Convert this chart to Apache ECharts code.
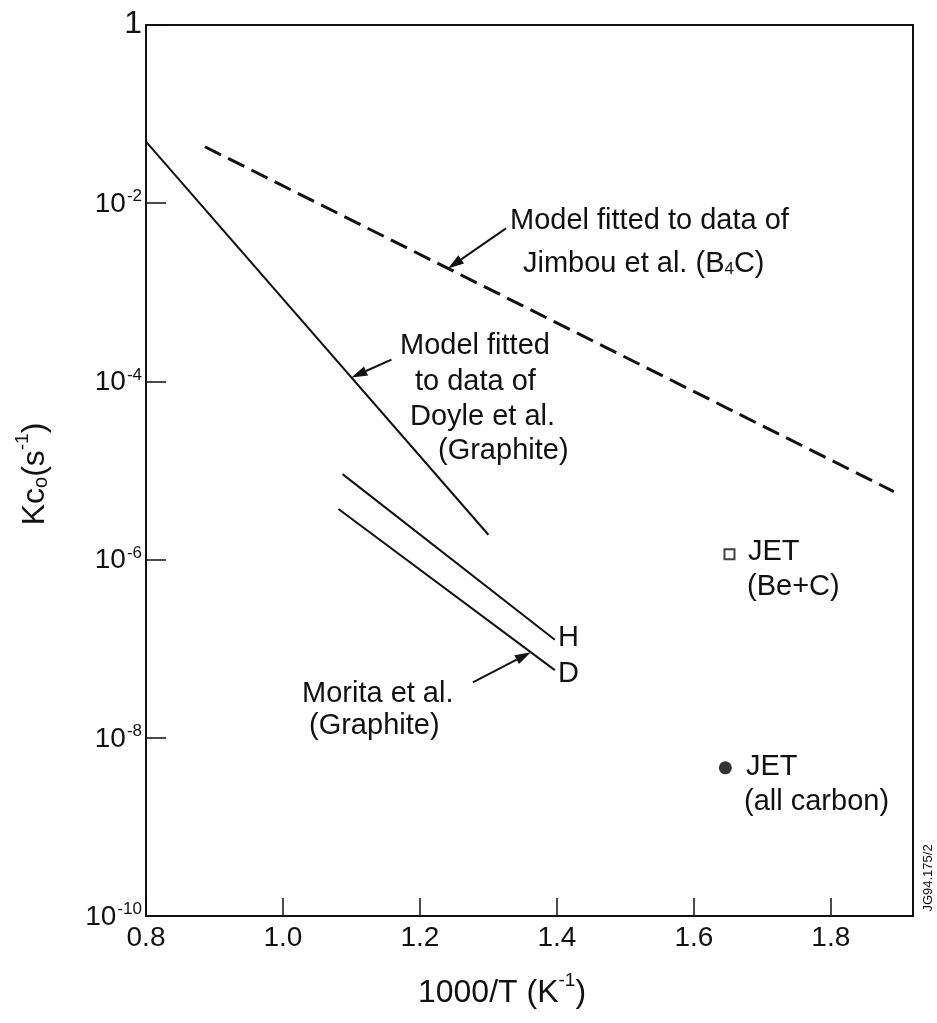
<!DOCTYPE html>
<html>
<head>
<meta charset="utf-8">
<script src="https://cdn.jsdelivr.net/npm/echarts@6/dist/echarts.min.js"></script>
<style>
  html,body{margin:0;padding:0;background:#fff;}
  #chart{width:937px;height:1023px;}
</style>
</head>
<body>
<div id="chart"></div>
<script>
// ========= 数据 =========
const xTicks = [0.8, 1.0, 1.2, 1.4, 1.6, 1.8];
const yExponents = [-10, -8, -6, -4, -2, 0];   // 刻度 10^n

const doyleLine  = [[0.80, 0.049], [1.30, 1.9e-6]];
const jimbouLine = [[0.886, 0.043], [1.892, 5.8e-6]];
const moritaH    = [[1.087, 9.1e-6], [1.397, 1.26e-7]];
const moritaD    = [[1.081, 3.7e-6], [1.397, 5.75e-8]];
const jetBeC     = [[1.652, 1.15e-6]];
const jetCarbon  = [[1.646, 4.6e-9]];

// 箭头：指向哪条线、在哪个 x 上
const arrowTargets = [
  {line: jimbouLine, x: 1.241, dx: 58, dy: -40},
  {line: doyleLine,  x: 1.100, dx: 40, dy: -18},
  {line: moritaD,    x: 1.362, dx: -58, dy: 30}
];

const FONT = "'Liberation Sans', Arial, Helvetica, sans-serif";
const INK = "#111";
const FS = 29;

const chart = echarts.init(document.getElementById("chart"));

// 对数坐标：y 轴用 log10(值)
const toLog = arr => arr.map(([x, y]) => [x, Math.log10(y)]);

const supRich = {
  b:   {fontSize: 28, fontFamily: FONT, color: INK, lineHeight: 30, verticalAlign: 'bottom'},
  big: {fontSize: 32, fontFamily: FONT, color: INK, lineHeight: 30, verticalAlign: 'bottom'},
  sup: {fontSize: 17, fontFamily: FONT, color: INK, lineHeight: 30, verticalAlign: 'top', padding: [0, 0, 0, 1]}
};

function lineSeries(data, dashed){
  return {
    type: "line",
    data: toLog(data),
    symbol: "none",
    silent: true,
    lineStyle: {color: INK, width: dashed ? 3 : 2, type: dashed ? [18, 8] : "solid"}
  };
}

chart.setOption({
  animation: false,
  grid: {left: 146, top: 25, right: 24, bottom: 107, show: true, borderColor: INK, borderWidth: 2},
  xAxis: {
    type: "value",
    min: 0.8, max: 1.92, interval: 0.2,
    axisLine: {show: true, onZero: false, lineStyle: {color: INK, width: 2}},
    axisTick: {show: true, inside: true, length: 18, lineStyle: {color: INK, width: 1.5}},
    splitLine: {show: false},
    axisLabel: {
      fontSize: 28, fontFamily: FONT, color: INK, margin: 8, showMaxLabel: false,
      formatter: v => xTicks.some(t => Math.abs(t - v) < 1e-6) ? v.toFixed(1) : ""
    }
  },
  yAxis: {
    type: "value",
    min: -10, max: 0, interval: 2,
    axisLine: {show: true, onZero: false, lineStyle: {color: INK, width: 2}},
    axisTick: {show: true, inside: true, length: 20, lineStyle: {color: INK, width: 1.5}},
    splitLine: {show: false},
    axisLabel: {
      margin: 4,
      rich: supRich,
      formatter: v => {
        const e = Math.round(v);
        if (!yExponents.includes(e)) return "";
        return e === 0 ? "{big|1}" : "{b|10}{sup|" + e + "}";
      }
    }
  },
  series: [
    lineSeries(doyleLine, false),
    lineSeries(jimbouLine, true),
    lineSeries(moritaH, false),
    lineSeries(moritaD, false),
    {type: "scatter", data: toLog(jetBeC), symbol: "rect", symbolSize: 10,
     itemStyle: {color: "#fff", borderColor: INK, borderWidth: 2}},
    {type: "scatter", data: toLog(jetCarbon), symbol: "circle", symbolSize: 13,
     itemStyle: {color: "#000"}}
  ]
});

// ========= 注释 =========
function logInterp(line, x){
  const [a, b] = line;
  const t = (x - a[0]) / (b[0] - a[0]);
  const ly = Math.log10(a[1]) + t * (Math.log10(b[1]) - Math.log10(a[1]));
  return [x, ly];
}

function arrow(tx, ty, hx, hy){
  const ang = Math.atan2(hy - ty, hx - tx);
  const L = 16, W = 5;
  const bx = hx - L * Math.cos(ang), by = hy - L * Math.sin(ang);
  const px = -Math.sin(ang) * W, py = Math.cos(ang) * W;
  return [
    {type: "line", shape: {x1: tx, y1: ty, x2: bx, y2: by}, style: {stroke: INK, lineWidth: 2}},
    {type: "polygon", shape: {points: [[hx, hy], [bx + px, by + py], [bx - px, by - py]]}, style: {fill: INK}}
  ];
}

function txt(x, y, text, size){
  return {
    type: "text", x: x, y: y,
    style: {text: text, fontSize: size || FS, fontFamily: FONT, fill: INK, align: "left", verticalAlign: "middle"}
  };
}

const g = [];
arrowTargets.forEach(a => {
  const p = chart.convertToPixel({gridIndex: 0}, logInterp(a.line, a.x));
  g.push(...arrow(p[0] + a.dx, p[1] + a.dy, p[0], p[1]));
});

const annRich = {
  m:   {fontSize: FS, fontFamily: FONT, fill: INK, color: INK, lineHeight: 34, verticalAlign: "bottom"},
  sub: {fontSize: 17, fontFamily: FONT, fill: INK, color: INK, lineHeight: 34, verticalAlign: "bottom"}
};
const titleRich = {
  m:   {fontSize: 32, fontFamily: FONT, fill: INK, color: INK, lineHeight: 38, verticalAlign: "bottom"},
  sub: {fontSize: 20, fontFamily: FONT, fill: INK, color: INK, lineHeight: 38, verticalAlign: "bottom"},
  sup: {fontSize: 19, fontFamily: FONT, fill: INK, color: INK, lineHeight: 38, verticalAlign: "top"}
};

// Jimbou
g.push(txt(510, 221, "Model fitted to data of"));
g.push({type: "text", x: 523, y: 261,
  style: {text: "{m|Jimbou et al. (B}{sub|4}{m|C)}", rich: annRich, align: "left", verticalAlign: "middle"}});
// Doyle
g.push(txt(400, 346, "Model fitted"));
g.push(txt(415, 382, "to data of"));
g.push(txt(410, 417, "Doyle et al."));
g.push(txt(438, 451, "(Graphite)"));
// Morita
g.push(txt(302, 694, "Morita et al."));
g.push(txt(309, 726, "(Graphite)"));
g.push(txt(558, 638, "H"));
g.push(txt(558, 674, "D"));
// JET
g.push(txt(748, 552, "JET"));
g.push(txt(747, 587, "(Be+C)"));
g.push(txt(746, 767, "JET"));
g.push(txt(744, 802, "(all carbon)"));
// 轴标题
g.push({type: "text", x: 502, y: 990,
  style: {text: "{m|1000/T (K}{sup|-1}{m|)}", rich: titleRich, align: "center", verticalAlign: "middle"}});
g.push({type: "text", x: 32, y: 474, rotation: Math.PI / 2,
  style: {text: "{m|Kc}{sub|o}{m|(s}{sup|-1}{m|)}", rich: titleRich, align: "center", verticalAlign: "middle"}});
// 图号
g.push({type: "text", x: 928, y: 878, rotation: Math.PI / 2,
  style: {text: "JG94.175/2", fontSize: 13, fontFamily: FONT, fill: INK, align: "center", verticalAlign: "middle"}});

chart.setOption({graphic: g});
</script>
</body>
</html>
